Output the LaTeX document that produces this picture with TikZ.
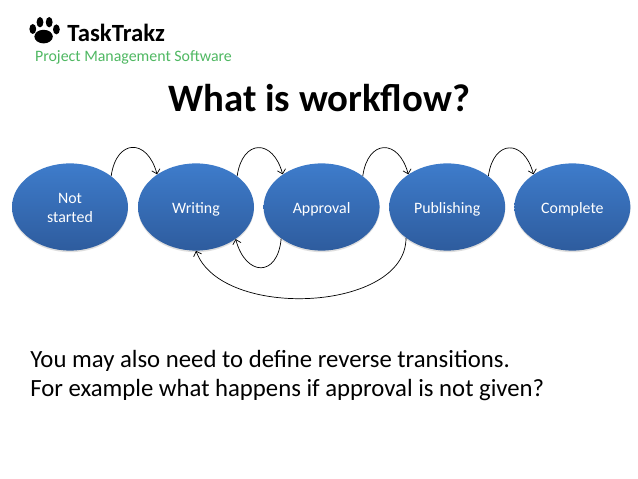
\documentclass[tikz,border=0pt]{standalone}
\usepackage{fontspec}
\setmainfont{Carlito}
\usetikzlibrary{shapes.geometric,shadows,arrows.meta}
\definecolor{statetop}{HTML}{3E7CCB}
\definecolor{statebottom}{HTML}{2E5C9E}
\definecolor{taglinegreen}{HTML}{4FB862}

\tikzset{
    state/.style={ellipse,minimum width=2.9cm,minimum height=2.18cm,inner sep=0pt,
        top color=statetop,bottom color=statebottom,text=white,font=\fontsize{11.3}{13.5}\selectfont,align=center,
        text height=9.8pt,text depth=0pt,
        drop shadow={shadow xshift=0cm,shadow yshift=-0.04cm,fill=black!25}},
    trans/.style={-{Straight Barb[length=3pt,width=6pt]},line width=0.5pt},
    plain/.style={anchor=west,inner sep=0pt},
}

\begin{document}
\begin{tikzpicture}[scale=1.0]
        \useasboundingbox (0,0) rectangle (15.95,11.975);
        \fill[white] (0,0) rectangle (15.95,11.975);

        % paw
        \fill (1.09,11.06) ellipse (0.23 and 0.17);
        \fill (0.82,11.25) ellipse (0.085 and 0.125);
        \fill (1.00,11.42) ellipse (0.085 and 0.13);
        \fill (1.23,11.42) ellipse (0.085 and 0.13);
        \fill (1.41,11.24) ellipse (0.085 and 0.125);

        % heading
        \node[plain,font=\fontsize{17.6}{20}\selectfont\bfseries] (brand) at (1.68,11.15) {TaskTrakz};
        \node[plain,font=\fontsize{11.3}{14}\selectfont,text=taglinegreen] (tagline) at (0.87,10.53) {Project Management Software};
        \node[plain,font=\fontsize{27.6}{30}\selectfont\bfseries] (title) at (4.2,9.52) {What is workflow?};

        % states
        \node[state,text height=22pt] (notstarted) at (1.75,6.8) {Not\\started};
        \node[state] (writing) at (4.9,6.8) {Writing};
        \node[state] (approval) at (8.04,6.8) {Approval};
        \node[state] (publishing) at (11.18,6.8) {Publishing};
        \node[state] (complete) at (14.31,6.8) {Complete};

        % forward
        \draw[trans] (notstarted.37) to[out=82,in=105,looseness=2.1] (writing.140);
        \draw[trans] (writing.37) to[out=82,in=105,looseness=2.1] (approval.140);
        \draw[trans] (approval.37) to[out=82,in=105,looseness=2.1] (publishing.140);
        \draw[trans] (publishing.37) to[out=82,in=105,looseness=2.1] (complete.140);

        % reverse
        \draw[trans] (approval.218) to[out=-95,in=-75,looseness=2.2] (writing.-39);
        \draw[trans] (publishing.217) to[out=-90,in=-70,looseness=0.9] (writing.-90);

        % text
        \node[plain,font=\fontsize{17.6}{20}\selectfont] (line1) at (0.75,2.96) {You may also need to define reverse transitions.};
        \node[plain,font=\fontsize{17.6}{20}\selectfont] (line2) at (0.75,2.23) {For example what happens if approval is not given?};

\end{tikzpicture}
\end{document}
